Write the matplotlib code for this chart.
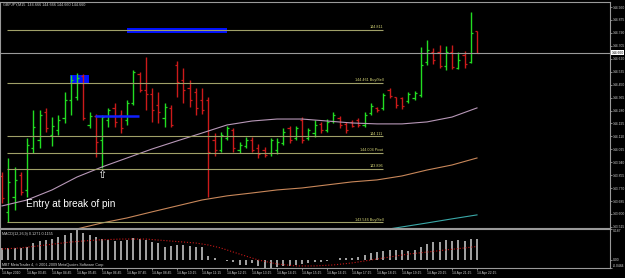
import matplotlib
matplotlib.use("Agg")
import matplotlib.pyplot as plt
from matplotlib.patches import Rectangle

plt.rcParams['font.family'] = ['Liberation Sans', 'DejaVu Sans']

# GBPJPY M15 bars (open / high / low / close)
opens = [143.850, 143.614, 143.712, 143.857, 143.758, 144.034, 144.086, 144.270, 144.119, 144.152,
         144.231, 144.349, 144.369, 144.507, 144.185, 144.244, 144.086, 144.218, 144.297, 144.251,
         144.218, 144.329, 144.520, 144.415, 144.389, 144.316, 144.231, 144.297, 144.579, 144.481,
         144.428, 144.402, 144.349, 144.349, 144.086, 144.021, 144.100, 144.152, 144.021, 144.047,
         144.086, 144.034, 144.021, 144.001, 144.021, 144.067, 144.165, 144.100, 144.218, 144.100,
         144.132, 144.192, 144.152, 144.211, 144.231, 144.192, 144.205, 144.218, 144.185, 144.264,
         144.297, 144.297, 144.415, 144.369, 144.362, 144.343, 144.362, 144.382, 144.599, 144.664,
         144.664, 144.572, 144.664, 144.559, 144.645, 144.599, 144.802]
highs = [143.876, 143.968, 143.909, 143.876, 144.100, 144.283, 144.283, 144.297, 144.237, 144.251,
         144.402, 144.513, 144.526, 144.520, 144.270, 144.257, 144.251, 144.297, 144.329, 144.283,
         144.349, 144.546, 144.533, 144.632, 144.428, 144.402, 144.329, 144.316, 144.605, 144.559,
         144.481, 144.428, 144.428, 144.369, 144.132, 144.139, 144.178, 144.165, 144.073, 144.106,
         144.106, 144.060, 144.040, 144.100, 144.100, 144.165, 144.178, 144.178, 144.237, 144.165,
         144.218, 144.205, 144.224, 144.270, 144.244, 144.205, 144.218, 144.231, 144.270, 144.329,
         144.303, 144.395, 144.428, 144.369, 144.369, 144.402, 144.408, 144.697, 144.743, 144.691,
         144.710, 144.704, 144.710, 144.664, 144.671, 144.927, 144.802]
lows = [143.673, 143.548, 143.627, 143.725, 143.712, 144.001, 144.034, 144.139, 144.047, 144.119,
        144.198, 144.251, 144.349, 144.218, 144.165, 143.975, 143.903, 144.172, 144.172, 144.132,
        144.185, 144.316, 144.402, 144.283, 144.205, 144.198, 144.172, 144.172, 144.369, 144.329,
        144.303, 144.251, 144.257, 143.712, 143.981, 144.008, 144.086, 144.008, 144.001, 144.034,
        144.008, 143.968, 143.975, 143.981, 143.994, 144.054, 144.067, 144.086, 144.067, 144.086,
        144.106, 144.132, 144.139, 144.198, 144.165, 144.132, 144.172, 144.172, 144.172, 144.251,
        144.270, 144.283, 144.362, 144.297, 144.290, 144.329, 144.349, 144.369, 144.579, 144.586,
        144.559, 144.546, 144.553, 144.553, 144.559, 144.592, 144.660]
closes = [143.705, 143.811, 143.824, 143.745, 144.054, 144.172, 144.251, 144.165, 144.178, 144.218,
          144.349, 144.481, 144.494, 144.231, 144.244, 144.073, 144.237, 144.283, 144.205, 144.165,
          144.329, 144.533, 144.415, 144.389, 144.283, 144.270, 144.303, 144.185, 144.467, 144.415,
          144.349, 144.297, 144.283, 144.008, 144.021, 144.119, 144.165, 144.034, 144.054, 144.086,
          144.021, 143.994, 143.988, 144.086, 144.073, 144.139, 144.086, 144.165, 144.086, 144.152,
          144.185, 144.152, 144.205, 144.251, 144.185, 144.152, 144.178, 144.185, 144.251, 144.310,
          144.283, 144.382, 144.375, 144.316, 144.310, 144.389, 144.395, 144.579, 144.678, 144.612,
          144.572, 144.664, 144.566, 144.612, 144.586, 144.789, 144.660]

# moving averages, read every 4 bars
ma1_bars = [0, 4, 8, 12, 16, 20, 24, 28, 32, 36, 40, 44, 48, 52, 56, 60, 64, 68, 72, 76]
ma1_vals = [143.653, 143.692, 143.758, 143.843, 143.909, 143.968, 144.027, 144.080, 144.132, 144.185,
            144.211, 144.224, 144.224, 144.211, 144.198, 144.192, 144.192, 144.205, 144.237, 144.297]
ma2_bars = [8, 12, 16, 20, 24, 28, 32, 36, 40, 44, 48, 52, 56, 60, 64, 68, 72, 76]
ma2_vals = [143.456, 143.502, 143.541, 143.574, 143.614, 143.653, 143.692, 143.719, 143.738, 143.758,
            143.771, 143.791, 143.811, 143.824, 143.850, 143.889, 143.922, 143.968]
ma3_bars = [60, 64, 68, 72, 76]
ma3_vals = [143.489, 143.515, 143.541, 143.568, 143.594]

# pivot / buy-sell levels
level_prices = [144.811, 144.461, 144.111, 144.004, 143.896, 143.546]
level_names = ["144.811", "144.461 Buy/Sell", "144.111", "144.004 Pivot", "143.896", "143.546 Buy/Sell"]
bid = 144.660

# MACD(12,26,9)
macd_hist = [0.073, 0.073, 0.073, 0.073, 0.079, 0.103, 0.115, 0.121, 0.127, 0.139,
             0.152, 0.164, 0.185, 0.164, 0.152, 0.139, 0.127, 0.121, 0.115, 0.115,
             0.121, 0.133, 0.127, 0.121, 0.109, 0.103, 0.079, 0.085, 0.091, 0.091,
             0.085, 0.079, 0.079, 0.024, 0.012, 0.002, -0.006, -0.012, -0.030, -0.030,
             -0.018, -0.036, -0.048, -0.048, -0.042, -0.036, -0.036, -0.030, -0.024, -0.018,
             -0.012, -0.012, -0.006, -0.002, 0.012, 0.012, 0.012, 0.018, 0.030, 0.042,
             0.048, 0.055, 0.061, 0.061, 0.061, 0.055, 0.061, 0.079, 0.097, 0.109,
             0.109, 0.121, 0.115, 0.121, 0.115, 0.127, 0.127]
signal_bars = [0, 3, 7, 11, 15, 19, 23, 27, 31, 33, 35, 38, 41, 44, 47, 50, 53, 56, 59, 62, 65, 68, 71, 74, 76]
signal_vals = [0.067, 0.073, 0.091, 0.109, 0.121, 0.127, 0.127, 0.115, 0.103, 0.091, 0.073, 0.036, 0.0,
               -0.024, -0.036, -0.036, -0.030, -0.018, 0.0, 0.018, 0.036, 0.048, 0.061, 0.073, 0.082]

price_ticks = [143.515, 143.600, 143.685, 143.770, 143.855, 143.940, 144.025, 144.110, 144.195,
               144.280, 144.365, 144.450, 144.535, 144.620, 144.705, 144.790, 144.875, 144.960]
time_bars = [0, 4, 8, 12, 16, 20, 24, 28, 32, 36, 40, 44, 48, 52, 56, 60, 64, 68, 72, 76]
time_labels = ["14 Apr 2010", "14 Apr 03:45", "14 Apr 04:45", "14 Apr 05:45", "14 Apr 06:45",
               "14 Apr 07:45", "14 Apr 08:45", "14 Apr 10:15", "14 Apr 11:15", "14 Apr 12:15",
               "14 Apr 13:15", "14 Apr 14:15", "14 Apr 15:15", "14 Apr 16:15", "14 Apr 17:15",
               "14 Apr 18:15", "14 Apr 19:15", "14 Apr 20:15", "14 Apr 21:15", "14 Apr 22:15"]

# ---------------- figure ----------------
fig = plt.figure(figsize=(6.25, 2.78), dpi=100, facecolor='black')
ax = fig.add_axes([0.0, 0.1799, 0.976, 0.8129], facecolor='black')
axm = fig.add_axes([0.0, 0.036, 0.976, 0.1403], facecolor='black')

small = 2.7
axis_fs = 2.4
grey = '#9a9a9a'

# price bars
for i in range(len(opens)):
    c = '#22dd22' if closes[i] >= opens[i] else '#cc1a1a'
    ax.vlines(i, lows[i], highs[i], color=c, lw=1.0)
    ax.hlines(opens[i], i - 0.34, i, color=c, lw=0.9)
    ax.hlines(closes[i], i, i + 0.34, color=c, lw=0.9)

# moving averages
ax.plot(ma1_bars, ma1_vals, color='#b898b8', lw=0.8)
ax.plot(ma2_bars, ma2_vals, color='#c8875a', lw=0.8)
ax.plot(ma3_bars, ma3_vals, color='#3aa8a8', lw=0.8)

# levels
for p, name in zip(level_prices, level_names):
    ax.hlines(p, 0.8, 61, color='#a0a068', lw=0.8)
    ax.text(61, p + 0.004, name, color='#d8d878', fontsize=small, ha='right', va='bottom')

# blue zones
ax.add_patch(Rectangle((20, 144.789), 16, 0.033, color='#0010ff', lw=0))
ax.add_patch(Rectangle((10.9, 144.461), 3.0, 0.052, color='#0010ff', lw=0))
ax.hlines(144.244, 14.9, 21.9, color='#1020ff', lw=1.8)

# bid line
ax.axhline(bid, color=grey, lw=0.8)
ax.annotate(f"{bid:.3f}", xy=(1.003, bid), xycoords=('axes fraction', 'data'), fontsize=axis_fs,
            color='black', va='center', ha='left',
            bbox=dict(boxstyle='square,pad=0.1', fc='white', ec='none'), annotation_clip=False)

# entry annotation
ax.text(16, 143.857, "\u21e7", color='white', fontsize=8, ha='center', va='center', family='DejaVu Sans')
ax.text(3.84, 143.666, "Entry at break of pin", color='white', fontsize=7.2, va='center')

ax.set_xlim(-0.32, 97.28)
ax.set_ylim(143.508, 144.993)
ax.set_xticks([])
ax.yaxis.tick_right()
ax.set_yticks(price_ticks)
ax.set_yticklabels([f"{t:.3f}" for t in price_ticks])
ax.tick_params(axis='y', colors=grey, labelcolor='#d0d0d0', labelsize=axis_fs, length=1.5, width=0.6, pad=0.6)
for s in ax.spines.values():
    s.set_color(grey)
    s.set_linewidth(0.8)

# MACD panel
axm.vlines(range(len(macd_hist)), 0, macd_hist, color='#d0d0d0', lw=1.1)
axm.plot(signal_bars, signal_vals, color='#c81818', lw=0.8, ls=':')
axm.set_xlim(-0.32, 97.28)
axm.set_ylim(-0.0485, 0.188)
axm.yaxis.tick_right()
axm.set_yticks([0.187, 0.0, -0.0485])
axm.set_yticklabels(["0.187", "0.00", "-0.0484"])
axm.get_yticklabels()[0].set_va('top')
axm.get_yticklabels()[2].set_va('bottom')
axm.set_xticks(time_bars)
axm.set_xticklabels(time_labels, ha='left')
axm.tick_params(colors=grey, labelcolor='#d0d0d0', labelsize=axis_fs, length=1.5, width=0.6, pad=0.6)
for s in axm.spines.values():
    s.set_color(grey)
    s.set_linewidth(0.8)

fig.text(3 / 625, 1 - 5 / 278, "GBPJPY,M15  144.666 144.666 144.660 144.660", color='#d0d0d0',
         fontsize=small, va='center')
axm.text(0.003, 0.93, "MACD(12,26,9) 0.1271 0.1155", transform=axm.transAxes, color='#d0d0d0',
         fontsize=small, va='top')
axm.text(0.003, 0.03, "MBT MetaTrader 4, \u00a9 2001-2009 MetaQuotes Software Corp.",
         transform=axm.transAxes, color='#d0d0d0', fontsize=small, va='bottom')

fig.savefig("out.png", dpi=100, facecolor='black')
